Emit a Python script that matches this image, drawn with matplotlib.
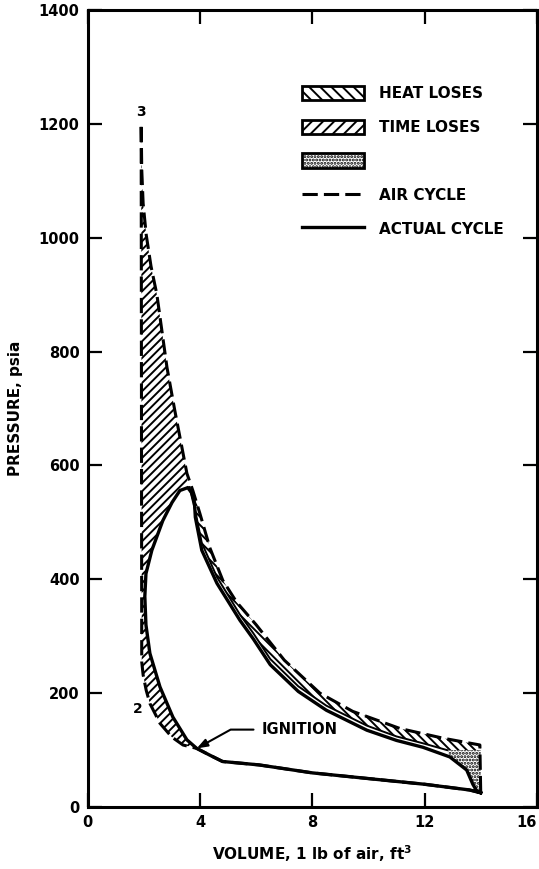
import numpy as np
import matplotlib
matplotlib.use("Agg")
import matplotlib.pyplot as plt
from matplotlib.patches import Patch
from matplotlib.lines import Line2D

# compression stroke, shared by both cycles (point 1 -> ignition)
comp_v = [14.0, 13.6, 12.0, 10.0, 8.0, 6.1, 4.8, 4.35, 3.88]
comp_p = [25, 30, 40, 50, 60, 74, 80, 91, 103]

# air cycle: ignition -> point 2, then 3 -> 4
air_comp_v = [3.88, 3.39, 2.99, 2.57, 2.21, 2.08, 1.97, 1.92]
air_comp_p = [103, 109, 123, 147, 182, 205, 232, 255]
air_exp_v = [1.90, 1.92, 1.97, 2.08, 2.25, 2.46, 2.82, 3.10, 3.53, 3.74, 3.99,
             4.35, 4.81, 5.30, 6.00, 7.00, 8.27, 9.44, 11.12, 12.65, 13.97]
air_exp_p = [1200, 1120, 1060, 1005, 950, 900, 772, 696, 586, 556, 516,
             455, 398, 360, 320, 258, 200, 168, 138, 121, 109]

# actual cycle: ignition -> peak -> end of expansion
act_comb_v = [3.88, 3.53, 3.03, 2.57, 2.21, 2.07, 2.03, 2.07, 2.28, 2.67, 3.00, 3.28, 3.56]
act_comb_p = [103, 118, 158, 211, 270, 320, 370, 410, 451, 503, 535, 556, 561]
act_exp_v = [3.56, 3.70, 3.80, 3.83, 4.06, 4.60, 5.42, 5.90, 6.50, 7.50, 8.50,
             9.94, 11.00, 11.94, 12.90, 13.50, 13.72, 13.86, 14.00]
act_exp_p = [561, 552, 535, 509, 451, 393, 328, 295, 250, 203, 170,
             135, 117, 105, 88, 65, 40, 28, 25]

# inner boundary of the heat loss band
heat_v = [3.62, 3.85, 4.06, 4.60, 5.42, 5.90, 6.50, 7.50, 8.50, 9.94, 11.00, 11.94, 12.80]
heat_p = [562, 515, 464, 404, 338, 305, 260, 212, 178, 143, 124, 112, 100]

# exhaust blowdown corner
blow_v = [12.80, 14.00, 14.00, 13.86, 13.72, 13.50, 12.90, 12.80]
blow_p = [100, 100, 25, 28, 40, 65, 88, 100]

x_ticks = [0, 4, 8, 12, 16]
y_ticks = [0, 200, 400, 600, 800, 1000, 1200, 1400]

plt.rcParams['font.family'] = ['DejaVu Sans']
plt.rcParams['font.weight'] = 'bold'
plt.rcParams['hatch.linewidth'] = 1.4

fig = plt.figure(figsize=(5.39, 8.69), dpi=100)
ax = fig.add_axes([0.163, 0.0713, 0.833, 0.9172])

#### loss areas
time_v = act_comb_v + air_exp_v[8::-1] + air_comp_v[::-1]
time_p = act_comb_p + air_exp_p[8::-1] + air_comp_p[::-1]
ax.fill(time_v, time_p, facecolor='none', edgecolor='black', hatch='////', linewidth=0)

heat_poly_v = air_exp_v[9:] + [blow_v[1]] + heat_v[::-1]
heat_poly_p = air_exp_p[9:] + [blow_p[1]] + heat_p[::-1]
ax.fill(heat_poly_v, heat_poly_p, facecolor='none', edgecolor='black', hatch='\\\\\\\\', linewidth=0)

ax.fill(blow_v, blow_p, facecolor='none', edgecolor='black', hatch='.....', linewidth=0)

#### cycles
air_v = comp_v + air_comp_v[1:] + air_exp_v + [comp_v[0]]
air_p = comp_p + air_comp_p[1:] + air_exp_p + [comp_p[0]]
ax.plot(air_v, air_p, color='black', lw=2.2, linestyle=(0, (5, 2)))

act_v = comp_v + act_comb_v[1:] + act_exp_v[1:]
act_p = comp_p + act_comb_p[1:] + act_exp_p[1:]
ax.plot(act_v, act_p, color='black', lw=2.4)
ax.plot(heat_v, heat_p, color='black', lw=1.4)

#### labels
ax.text(air_exp_v[0], air_exp_p[0] + 8, '3', ha='center', va='bottom', fontsize=10)
ax.text(1.78, 172, '2', ha='center', va='center', fontsize=10)
ax.annotate('IGNITION', xy=(comp_v[-1], comp_p[-1]), xytext=(6.2, 136),
            fontsize=10.5, va='center', ha='left',
            arrowprops=dict(arrowstyle='-|>,head_length=0.6,head_width=0.22', color='black', lw=1.5,
                            relpos=(0, 0.5), shrinkA=4, shrinkB=0,
                            connectionstyle='angle,angleA=0,angleB=29,rad=0'))

ax.set_xlim(0, 16)
ax.set_ylim(0, 1400)
ax.set_xticks(x_ticks)
ax.set_yticks(y_ticks)
ax.tick_params(direction='in', length=10, width=1.6, top=True, right=True,
               labeltop=False, labelright=False, labelsize=10.5, pad=6)
ax.get_xticklabels()[-1].set_horizontalalignment('right')
for s in ax.spines.values():
    s.set_linewidth(2.2)

ax.set_xlabel('VOLUME, 1 lb of air, ft$^{\\mathbf{3}}$', fontsize=11, fontweight='bold', labelpad=9)
ax.set_ylabel('PRESSURE, psia', fontsize=11, fontweight='bold')
ax.yaxis.set_label_coords(-0.145, 0.5)

handles = [
    Patch(facecolor='white', edgecolor='black', hatch='\\\\\\', lw=2),
    Patch(facecolor='white', edgecolor='black', hatch='///', lw=2),
    Patch(facecolor='white', edgecolor='black', hatch='.....', lw=2),
    Line2D([], [], color='black', lw=2.2, linestyle=(0, (5, 2))),
    Line2D([], [], color='black', lw=2.4),
]
labels = ['HEAT LOSES', 'TIME LOSES', '', 'AIR CYCLE', 'ACTUAL CYCLE']
ax.legend(handles, labels, loc='upper left', bbox_to_anchor=(0.478, 0.905),
          frameon=False, fontsize=11, handlelength=4.0, handleheight=1.1,
          handletextpad=1.0, labelspacing=1.2, borderaxespad=0, borderpad=0)

fig.savefig('out.png', dpi=100)
